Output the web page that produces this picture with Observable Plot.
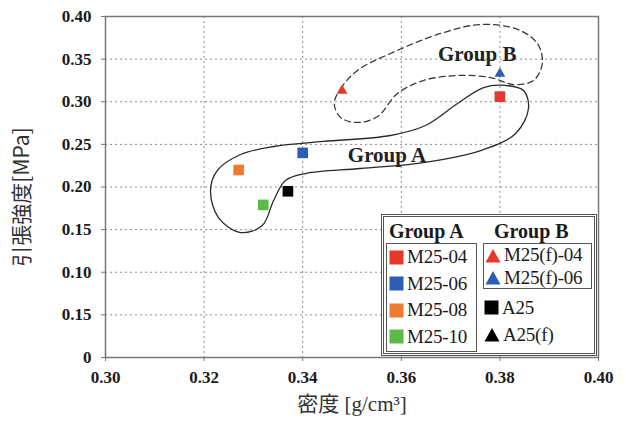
<!DOCTYPE html>
<html>
<head>
<meta charset="utf-8">
<script src="https://cdn.jsdelivr.net/npm/d3@7"></script>
<script src="https://cdn.jsdelivr.net/npm/@observablehq/plot@0.6"></script>
<style>
  html, body { margin: 0; padding: 0; background: #fff; }
  #wrap { position: relative; width: 626px; height: 428px; }
  #legend { position: absolute; left: 381px; top: 214px; width: 216px; height: 142px;
    box-sizing: border-box; border: 3px double #555; background: #fff;
    font-family: "Liberation Serif", "Times New Roman", serif; color: #1a1a1a; }
  .hdr { position: absolute; top: 3px; font-weight: bold; font-size: 20px; line-height: 22px; }
  .box { position: absolute; border: 1px solid #555; box-sizing: border-box; }
  .row { display: flex; align-items: center; font-size: 19px; white-space: nowrap; letter-spacing: -0.2px; }
  .row svg { margin-right: 3px; flex: none; }
</style>
</head>
<body>
<div id="wrap"></div>
<script>
// ---- data ----
const names      = ["M25-04", "M25-06", "M25-08", "M25-10", "A25", "M25(f)-04", "M25(f)-06"];
const densities  = [0.380, 0.340, 0.327, 0.332, 0.337, 0.348, 0.380];
const strengths  = [0.306, 0.240, 0.220, 0.179, 0.195, 0.313, 0.333];

const xTicks      = [0.30, 0.32, 0.34, 0.36, 0.38, 0.40];
const xTickLabels = ["0.30", "0.32", "0.34", "0.36", "0.38", "0.40"];
const yTicks      = [0, 0.05, 0.10, 0.15, 0.20, 0.25, 0.30, 0.35, 0.40];
const yTickLabels = ["0", "0.15", "0.10", "0.15", "0.20", "0.25", "0.30", "0.35", "0.40"];

const groupANames = ["M25-04", "M25-06", "M25-08", "M25-10"];
const groupBNames = ["M25(f)-04", "M25(f)-06"];
const otherNames  = ["A25", "A25(f)"];

// hand-drawn group outlines (data coordinates)
const outlineAx = [0.3213,0.3229,0.3274,0.3318,0.3341,0.3365,0.3406,0.3517,0.3645,0.3761,0.3832,0.3858,0.3848,0.3811,0.3767,0.3714,0.3649,0.3578,0.3442,0.3341,0.3274,0.3227];
const outlineAy = [0.1959,0.1642,0.1466,0.1548,0.1842,0.2076,0.2158,0.2217,0.2287,0.2428,0.2628,0.2921,0.3132,0.3191,0.3167,0.2979,0.2721,0.2604,0.2534,0.2475,0.2381,0.2194];
const outlineBx = [0.3464,0.3477,0.3511,0.3578,0.3680,0.3761,0.3836,0.3876,0.3886,0.3868,0.3828,0.3781,0.3714,0.3645,0.3592,0.3552,0.3511,0.3477];
const outlineBy = [0.2979,0.3155,0.3367,0.3566,0.3801,0.3906,0.3848,0.3683,0.3449,0.3249,0.3202,0.3284,0.3308,0.3249,0.3097,0.2827,0.2757,0.2815];

const groupLabels = ["Group A", "Group B"];
const groupLabelX = [0.3571, 0.3754];
const groupLabelY = [0.237, 0.356];

// ---- styles ----
const colorOf = {
  "M25-04": "#e5372c", "M25-06": "#2c5db5", "M25-08": "#f07a30", "M25-10": "#5cbb48",
  "A25": "#000000", "M25(f)-04": "#e5372c", "M25(f)-06": "#2c5db5", "A25(f)": "#000000"
};
const symbolOf = n => n.includes("(f)") ? "triangle" : "square";

const points = names.map((n, i) => ({name: n, x: densities[i], y: strengths[i]}));
const squares = points.filter(p => symbolOf(p.name) === "square");
const triangles = points.filter(p => symbolOf(p.name) === "triangle");
const outlineA = outlineAx.map((x, i) => ({x, y: outlineAy[i]}));
const outlineB = outlineBx.map((x, i) => ({x, y: outlineBy[i]}));
const labels = groupLabels.map((t, i) => ({t, x: groupLabelX[i], y: groupLabelY[i]}));

const serif = "'Liberation Serif', 'Times New Roman', serif";

const chart = Plot.plot({
  width: 626, height: 428,
  marginLeft: 105, marginRight: 28, marginTop: 16, marginBottom: 71,
  x: {domain: [0.30, 0.40]},
  y: {domain: [0, 0.40]},
  style: {fontFamily: serif, background: "white", overflow: "visible"},
  marks: [
    Plot.gridX(xTicks.slice(1, -1), {stroke: "#8c8c8c", strokeOpacity: 1, strokeDasharray: "2,3"}),
    Plot.gridY(yTicks.slice(1, -1), {stroke: "#8c8c8c", strokeOpacity: 1, strokeDasharray: "2,3"}),
    Plot.frame({stroke: "#777", strokeWidth: 1.5}),
    Plot.axisX(xTicks, {
      tickFormat: d => xTickLabels[xTicks.indexOf(d)], tickSize: 4, tickPadding: 9,
      fontSize: 17, fontWeight: "bold", fontFamily: serif, fill: "#1a1a1a", stroke: "#777", label: null
    }),
    Plot.axisY(yTicks, {
      tickFormat: d => yTickLabels[yTicks.indexOf(d)], tickSize: 4, tickPadding: 10,
      fontSize: 17, fontWeight: "bold", fontFamily: serif, fill: "#1a1a1a", stroke: "#777", label: null
    }),
    Plot.line(outlineA, {x: "x", y: "y", curve: "catmull-rom-closed", stroke: "#2a2a2a", strokeWidth: 1.3}),
    Plot.line(outlineB, {x: "x", y: "y", curve: "catmull-rom-closed", stroke: "#3a3a3a", strokeWidth: 1.3, strokeDasharray: "6,4"}),
    Plot.text(labels, {x: "x", y: "y", text: "t", fontSize: 21, fontWeight: "bold", fill: "#222", fontFamily: serif}),
    Plot.dot(squares, {x: "x", y: "y", symbol: "square", r: 6, fill: d => colorOf[d.name], stroke: "none"}),
    Plot.dot(triangles, {x: "x", y: "y", symbol: "triangle", r: 4, fill: d => colorOf[d.name], stroke: "none"}),
    Plot.text(["引張強度[MPa]"], {frameAnchor: "left", textAnchor: "middle", dx: -83, dy: 10, rotate: -90, fontSize: 21,
      fill: "#333", fontFamily: "'Noto Sans CJK JP', sans-serif"}),
    Plot.text(["密度 [g/cm³]"], {frameAnchor: "bottom", dy: 53, fontSize: 21, fill: "#333",
      fontFamily: "'Liberation Serif', 'Noto Sans CJK JP', serif"})
  ]
});

const wrap = document.getElementById("wrap");
wrap.appendChild(chart);

// ---- legend (HTML) ----
function icon(name) {
  const c = colorOf[name];
  if (symbolOf(name) === "square")
    return `<svg width="15" height="15"><rect x="0.5" y="0.5" width="14" height="14" fill="${c}"/></svg>`;
  return `<svg width="16" height="15"><polygon points="8,1 15.5,14.5 0.5,14.5" fill="${c}"/></svg>`;
}
function rows(list, h) {
  return list.map(n => `<div class="row" style="height:${h}px">${icon(n)}<span>${n}</span></div>`).join("");
}
const legend = document.createElement("div");
legend.id = "legend";
legend.innerHTML =
  `<div class="hdr" style="left:5px">Group A</div>` +
  `<div class="hdr" style="left:110px">Group B</div>` +
  `<div class="box" style="left:2px;top:26px;width:91px;height:109px;padding:0 0 0 2px">${rows(groupANames, 26.5)}</div>` +
  `<div class="box" style="left:99px;top:26px;width:109px;height:46px;padding:0 0 0 1px">${rows(groupBNames, 22.5)}</div>` +
  `<div style="position:absolute;left:100px;top:77px">${rows(otherNames, 27)}</div>`;
wrap.appendChild(legend);
</script>
</body>
</html>
